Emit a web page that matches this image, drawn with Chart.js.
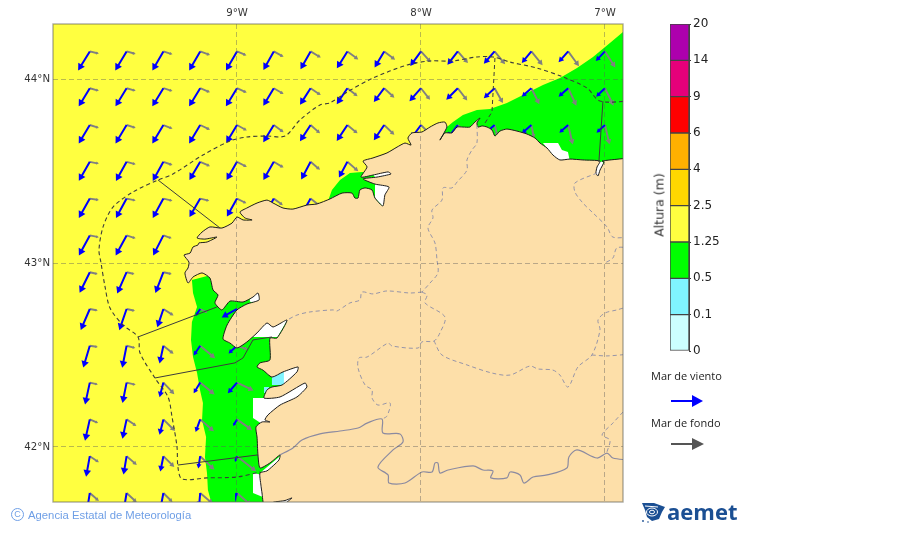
<!DOCTYPE html>
<html>
<head>
<meta charset="utf-8">
<title>Altura de mar combinada</title>
<script src="https://cdn.jsdelivr.net/npm/chart.js@4/dist/chart.umd.min.js"></script>
<style>
  html, body { margin: 0; padding: 0; background: #fff; }
  #page { position: relative; width: 900px; height: 533px; overflow: hidden; }
  #mapChart { position: absolute; left: 0; top: 0; }
  #barChart { position: absolute; left: 640px; top: 0; }
  .label { position: absolute; white-space: nowrap; }
  #altura { left: 659px; top: 205px; font: 12.5px "DejaVu Sans"; color: #333; transform: translate(-50%, -50%) rotate(-90deg); }
  .key { left: 651px; font: 11px "Open Sans"; color: #222; }
  #copy { left: 28px; top: 509px; font: 11.3px "Liberation Sans"; color: #6f9fe6; }
  #copyMark { left: 11px; top: 508px; width: 11px; height: 11px; border: 1.3px solid #6f9fe6; border-radius: 50%; font: 9px/11px "Liberation Sans"; color: #6f9fe6; text-align: center; }
  #aemet { left: 667px; top: 496px; font: bold 22px "Open Sans"; color: #1b4f93; }
  svg { position: absolute; left: 0; top: 0; }
</style>
</head>
<body>
<div id="page">
  <canvas id="mapChart" width="900" height="533"></canvas>
  <canvas id="barChart" width="130" height="400"></canvas>
  <div class="label" id="altura">Altura (m)</div>
  <div class="label key" style="top:368px">Mar de viento</div>
  <div class="label key" style="top:415px">Mar de fondo</div>
  <svg width="900" height="533">
    <line x1="671" y1="401" x2="694" y2="401" stroke="#0000ff" stroke-width="2"/>
    <polygon points="692,395 703,401 692,407" fill="#0000ff"/>
    <line x1="671" y1="444" x2="694" y2="444" stroke="#555" stroke-width="2"/>
    <polygon points="692,438 704,444 692,450" fill="#555"/>
    <polygon points="642,503 654,503 665,507 662,512 659,519 652,521 647,517 645,510" fill="#1b4f93"/>
    <g fill="none" stroke="#ffffff" stroke-width="1">
      <ellipse cx="652" cy="512" rx="5.5" ry="4"/>
      <ellipse cx="652" cy="512" rx="2.5" ry="1.8"/>
      <path d="M645 506 L658 507"/>
    </g>
    <circle cx="643" cy="521" r="0.9" fill="#1b4f93"/>
    <circle cx="648" cy="522" r="0.8" fill="#1b4f93"/>
  </svg>
  <div class="label" id="aemet">aemet</div>
  <div class="label" id="copyMark">C</div>
  <div class="label" id="copy">Agencia Estatal de Meteorología</div>
</div>
<script>
// Map limits and ticks (degrees)
const lonMin = -10, lonMax = -6.902, latMin = 41.701, latMax = 44.299;
const lonTicks = [-9, -8, -7];
const lonTickLabels = ['9°W', '8°W', '7°W'];
const latTicks = [44, 43, 42];
const latTickLabels = ['44°N', '43°N', '42°N'];

// Colour bar
const barClasses = ['0-0.1', '0.1-0.5', '0.5-1.25', '1.25-2.5', '2.5-4', '4-6', '6-9', '9-14', '14-20'];
const barColors = ['#ccffff', '#80f4ff', '#00ff00', '#ffff40', '#ffd700', '#ffb000', '#ff0000', '#e6007a', '#ad00ad'];
const barTickLabels = ['0', '0.1', '0.5', '1.25', '2.5', '4', '6', '9', '14', '20'];

// Coast of Galicia, east to west then south, closed round the bottom right corner
const landOutline = [
  [-6.864,43.571],[-6.973,43.560],[-7.016,43.554],[-7.005,43.549],[-7.027,43.505],[-7.038,43.473],[-7.049,43.489],
  [-7.043,43.522],[-7.027,43.554],[-7.120,43.560],[-7.190,43.565],[-7.245,43.560],[-7.283,43.587],[-7.315,43.625],
  [-7.353,43.652],[-7.380,43.679],[-7.424,43.701],[-7.478,43.717],[-7.533,43.728],[-7.571,43.717],[-7.598,43.690],
  [-7.614,43.723],[-7.641,43.739],[-7.668,43.745],[-7.690,43.739],[-7.696,43.761],[-7.679,43.788],[-7.707,43.766],
  [-7.734,43.739],[-7.772,43.739],[-7.804,43.739],[-7.832,43.707],[-7.870,43.707],[-7.897,43.668],[-7.859,43.739],
  [-7.870,43.766],[-7.908,43.761],[-7.951,43.739],[-7.995,43.712],[-8.049,43.707],[-8.071,43.679],[-8.054,43.641],
  [-8.087,43.652],[-8.130,43.630],[-8.185,43.598],[-8.261,43.571],[-8.315,43.554],[-8.293,43.522],[-8.326,43.467],
  [-8.261,43.478],[-8.179,43.495],[-8.163,43.484],[-8.239,43.467],[-8.315,43.457],[-8.250,43.429],[-8.174,43.413],
  [-8.196,43.370],[-8.207,43.310],[-8.250,43.353],[-8.266,43.397],[-8.304,43.408],[-8.332,43.397],[-8.342,43.353],
  [-8.359,43.353],[-8.375,43.380],[-8.429,43.380],[-8.495,43.348],[-8.565,43.321],[-8.620,43.315],[-8.696,43.293],
  [-8.750,43.299],[-8.804,43.326],[-8.837,43.342],[-8.891,43.326],[-8.946,43.299],[-8.984,43.277],[-8.957,43.245],
  [-8.918,43.234],[-8.967,43.234],[-9.000,43.250],[-9.027,43.217],[-9.082,43.190],[-9.147,43.196],[-9.190,43.168],
  [-9.217,43.136],[-9.174,43.130],[-9.109,43.141],[-9.163,43.114],[-9.207,43.109],[-9.212,43.098],[-9.239,43.087],
  [-9.255,43.054],[-9.288,43.043],[-9.261,43.005],[-9.266,42.973],[-9.283,42.946],[-9.266,42.891],[-9.239,42.924],
  [-9.190,42.946],[-9.147,42.918],[-9.130,42.853],[-9.103,42.826],[-9.120,42.783],[-9.082,42.745],[-9.038,42.793],
  [-8.967,42.788],[-8.913,42.815],[-8.886,42.837],[-8.880,42.799],[-8.946,42.777],[-9.000,42.745],[-9.054,42.663],
  [-9.076,42.587],[-9.038,42.565],[-9.000,42.538],[-8.946,42.571],[-8.891,42.620],[-8.837,42.674],[-8.804,42.652],
  [-8.728,42.690],[-8.783,42.592],[-8.821,42.592],[-8.821,42.473],[-8.875,42.457],[-8.891,42.435],[-8.859,42.418],
  [-8.810,42.380],[-8.750,42.408],[-8.668,42.435],[-8.674,42.408],[-8.755,42.337],[-8.810,42.326],[-8.837,42.310],
  [-8.853,42.266],[-8.766,42.272],[-8.630,42.348],[-8.620,42.326],[-8.674,42.272],[-8.766,42.228],[-8.832,42.174],
  [-8.848,42.147],[-8.821,42.136],[-8.864,42.136],[-8.897,42.109],[-8.891,42.054],[-8.886,41.957],[-8.875,41.886],
  [-8.821,41.913],[-8.766,41.957],[-8.772,41.929],[-8.837,41.870],[-8.875,41.859],[-8.870,41.793],[-8.864,41.750],
  [-8.853,41.685],[-8.804,41.685],[-8.804,41.699],[-8.739,41.709],[-8.701,41.723],[-8.734,41.695],[-8.734,41.685],
  [-6.864,41.685]
];

// Sea height areas
const greenWest = [
  [-9.245,42.908],[-9.239,42.837],[-9.217,42.761],[-9.245,42.679],[-9.250,42.582],[-9.239,42.489],[-9.217,42.402],
  [-9.201,42.310],[-9.185,42.239],[-9.190,42.147],[-9.168,42.054],[-9.174,41.946],[-9.163,41.859],[-9.158,41.766],
  [-9.136,41.685],[-8.810,41.685],[-8.658,42.147],[-8.603,42.690],[-9.038,42.962]
];
const greenNorth = [
  [-6.864,44.288],[-6.902,44.255],[-6.973,44.196],[-7.065,44.120],[-7.152,44.060],[-7.245,44.005],[-7.337,43.967],
  [-7.446,43.913],[-7.533,43.870],[-7.625,43.837],[-7.696,43.832],[-7.772,43.804],[-7.826,43.766],[-7.859,43.739],
  [-7.924,43.641],[-6.864,43.505]
];
const greenFerrol = [
  [-8.511,43.321],[-8.484,43.397],[-8.440,43.451],[-8.386,43.489],[-8.321,43.495],[-8.120,43.495],[-8.120,43.288],[-8.511,43.288]
];
const cyanPontevedra = [[-8.81,42.40],[-8.745,42.41],[-8.745,42.337],[-8.81,42.337]];
const cyanAldan = [[-8.853,42.326],[-8.826,42.326],[-8.826,42.293],[-8.853,42.293]];
const whiteMuros = [[-8.93,42.80],[-8.90,42.85],[-8.86,42.85],[-8.86,42.78],[-8.93,42.79]];
const whiteArousa = [[-8.918,42.598],[-8.891,42.63],[-8.85,42.68],[-8.72,42.70],[-8.78,42.598]];
const whitePontevedra = [[-8.755,42.41],[-8.64,42.45],[-8.65,42.39],[-8.755,42.33]];
const whiteVigo = [[-8.913,42.266],[-8.853,42.266],[-8.614,42.364],[-8.614,42.310],[-8.810,42.125],[-8.864,42.125],[-8.913,42.158]];
const whiteMinho = [[-8.875,41.859],[-8.739,41.973],[-8.739,41.913],[-8.853,41.848]];
const whiteGuarda = [[-8.913,41.859],[-8.860,41.848],[-8.860,41.728],[-8.913,41.750]];
const whiteCaminha = [[-8.81,41.69],[-8.70,41.73],[-8.70,41.68]];
const whiteRibadeo = [[-7.060,43.550],[-7.011,43.550],[-7.011,43.462],[-7.060,43.462]];
const whiteNorth = [[-7.337,43.652],[-7.255,43.652],[-7.234,43.614],[-7.201,43.603],[-7.190,43.549],[-7.261,43.560],[-7.299,43.603]];
const whiteFerrol = [[-8.261,43.484],[-8.152,43.505],[-8.152,43.473],[-8.245,43.457]];
const whiteBetanzos = [[-8.250,43.429],[-8.163,43.424],[-8.201,43.30],[-8.250,43.353]];

// Maritime zones
const zoneLimit = [
  [-6.864,43.880],[-7.027,43.880],[-7.098,43.951],[-7.228,44.011],[-7.370,44.060],[-7.516,44.092],[-7.609,44.120],
  [-7.696,44.120],[-7.826,44.098],[-7.951,44.098],[-8.076,44.076],[-8.261,44.005],[-8.402,43.929],[-8.495,43.870],
  [-8.549,43.859],[-8.658,43.777],[-8.739,43.690],[-8.837,43.690],[-8.946,43.685],[-9.038,43.663],[-9.185,43.587],
  [-9.348,43.484],[-9.429,43.451],[-9.565,43.386],[-9.674,43.304],[-9.728,43.196],[-9.750,43.071],[-9.739,43.000],
  [-9.717,42.870],[-9.690,42.755],[-9.620,42.663],[-9.538,42.598],[-9.527,42.511],[-9.446,42.375],[-9.375,42.272],
  [-9.353,42.163],[-9.326,42.000],[-9.321,41.891],[-9.299,41.826],[-9.163,41.832],[-9.000,41.837],[-8.875,41.864]
];
const zoneDividerA = [[-9.429,43.451],[-9.092,43.190]];
const zoneDividerB = [[-9.538,42.598],[-9.109,42.761]];
const zoneDividerC = [[-9.446,42.375],[-9.011,42.457],[-8.967,42.484],[-8.913,42.582],[-8.810,42.598]];
const zoneDividerD = [[-9.321,41.902],[-8.886,41.957]];
const zoneDividerE = [[-7.598,44.114],[-7.614,43.821],[-7.652,43.761]];
const zoneDividerF = [[-7.011,43.880],[-7.033,43.549]];

// Province limits and the Portuguese border
const provNorth = [
  [-7.696,43.750],[-7.696,43.652],[-7.723,43.614],[-7.750,43.560],[-7.750,43.505],[-7.804,43.440],[-7.832,43.408],
  [-7.880,43.408],[-7.886,43.342],[-7.940,43.288],[-7.935,43.245],[-7.962,43.190],[-7.924,43.109],[-7.913,43.016],
  [-7.908,42.946],[-7.951,42.891],[-7.995,42.842]
];
const provWest = [
  [-7.995,42.842],[-8.060,42.837],[-8.185,42.848],[-8.261,42.832],[-8.321,42.842],[-8.332,42.799],[-8.386,42.783],
  [-8.457,42.739],[-8.478,42.745],[-8.603,42.734],[-8.674,42.717],[-8.728,42.690]
];
const provSouth = [
  [-7.995,42.842],[-7.967,42.826],[-7.978,42.783],[-7.870,42.707],[-7.897,42.620],[-7.929,42.576],[-7.995,42.571],
  [-8.016,42.538],[-8.158,42.549],[-8.179,42.565],[-8.293,42.489],[-8.337,42.484],[-8.342,42.429],[-8.304,42.337],
  [-8.266,42.310],[-8.266,42.266],[-8.234,42.228],[-8.168,42.239],[-8.185,42.168],[-8.212,42.152]
];
const provEast = [
  [-7.929,42.576],[-7.886,42.500],[-7.750,42.446],[-7.614,42.402],[-7.516,42.391],[-7.408,42.440],[-7.364,42.424],
  [-7.283,42.418],[-7.245,42.391],[-7.201,42.326],[-7.147,42.435],[-7.071,42.500],[-7.027,42.636],[-7.038,42.690],
  [-7.000,42.728],[-6.935,42.745],[-6.864,42.766]
];
const provFork = [[-7.071,42.500],[-6.989,42.495],[-6.864,42.505]];
const provSouthEast = [[-6.902,42.190],[-6.957,42.130],[-7.016,42.065],[-6.973,42.038],[-6.989,41.973]];
const provAsturias = [
  [-7.043,43.489],[-7.163,43.435],[-7.163,43.386],[-7.120,43.326],[-7.065,43.272],[-6.989,43.196],[-6.957,43.141],[-6.864,43.141]
];
const provCorner = [[-6.864,43.082],[-6.935,43.082],[-6.957,43.027],[-7.000,43.000]];
const border = [
  [-8.766,41.957],[-8.696,41.995],[-8.647,42.038],[-8.549,42.071],[-8.440,42.087],[-8.342,42.103],[-8.293,42.130],
  [-8.212,42.152],[-8.207,42.076],[-8.114,42.071],[-8.098,42.027],[-8.152,41.984],[-8.234,41.891],[-8.179,41.848],
  [-8.174,41.804],[-8.087,41.804],[-7.995,41.864],[-7.940,41.864],[-7.924,41.913],[-7.908,41.913],[-7.897,41.859],
  [-7.853,41.875],[-7.717,41.897],[-7.663,41.875],[-7.609,41.870],[-7.620,41.832],[-7.533,41.832],[-7.516,41.864],
  [-7.462,41.848],[-7.440,41.804],[-7.391,41.837],[-7.315,41.848],[-7.207,41.886],[-7.196,41.946],[-7.152,41.984],
  [-7.043,41.940],[-6.989,41.967],[-6.957,41.940],[-6.864,41.929]
];

// Wave vectors: one row per latitude, columns run east from the first longitude
const gridLons = [-9.8, -9.6, -9.4, -9.2, -9.0, -8.8, -8.6, -8.4, -8.2, -8.0, -7.8, -7.6, -7.4, -7.2, -7.0];
const gridLats = [44.15, 43.95, 43.75, 43.55, 43.35, 43.15, 42.95, 42.75, 42.55, 42.35, 42.15, 41.95, 41.75];
const windU = [
  [-32,-31,-30,-30,-30,-28,-27,-28,-25,-28,-27,-28,-25,-25,-24],
  [-30,-30,-30,-30,-30,-28,-28,-28,-27,-30,-30,-28,-25,-25,-23],
  [-30,-30,-30,-30,-29,-28,-28,-28,-27,-28,-27,-25,-25,-23,-22],
  [-30,-29,-29,-29,-28,-28,-25,-22],
  [-30,-29,-29,-29,-27,-27,-27],
  [-30,-30,-28],
  [-28,-26,-22],
  [-25,-20,-16,-12,-40],
  [-18,-12,-10,-17,-22],
  [-13,-11,-10,-17,-24],
  [-13,-11,-10,-12,-10],
  [-10,-8,-8,-5,-5],
  [-8,-8,-8,-3,-3]
];
const windV = [
  [-52,-52,-52,-52,-52,-50,-48,-45,-42,-38,-35,-32,-30,-28,-25],
  [-49,-49,-49,-49,-49,-47,-44,-42,-36,-34,-30,-26,-22,-22,-22],
  [-50,-50,-50,-50,-48,-46,-43,-42,-40,-38,-35,-22,-22,-20,-20],
  [-52,-52,-52,-49,-49,-49,-47,-41],
  [-53,-53,-53,-50,-48,-48,-48],
  [-55,-55,-55],
  [-57,-59,-57],
  [-58,-58,-48,-18,-22],
  [-60,-60,-46,-25,-20],
  [-60,-55,-38,-28,-28],
  [-58,-51,-40,-33,-17],
  [-55,-48,-40,-32,-15],
  [-50,-48,-42,-35,-10]
];
const swellU = [
  [25,25,25,27,26,27,28,30,30,27,28,29,31,30,29],
  [25,25,25,27,27,27,28,28,28,25,26,23,22,23,24],
  [25,25,25,27,27,27,26,28,28,25,25,8,7,13,13],
  [25,25,25,27,27,27,26,30],
  [25,25,25,25,26,25,25],
  [25,25,23],
  [22,22,23],
  [22,23,28,20,20],
  [22,24,28,42,30],
  [22,25,30,40,46],
  [23,27,32,38,42],
  [25,28,30,40,56],
  [25,28,25,35,40]
];
const swellV = [
  [-6,-7,-8,-10,-11,-15,-17,-22,-23,-30,-32,-35,-38,-41,-45],
  [-7,-7,-8,-11,-12,-16,-19,-22,-26,-32,-34,-41,-44,-49,-49],
  [-8,-8,-10,-13,-15,-20,-23,-23,-27,-25,-25,-30,-35,-55,-55],
  [-5,-7,-9,-12,-14,-16,-22,-26],
  [-4,-5,-6,-6,-13,-18,-20],
  [-5,-8,-8],
  [-5,-5,-5],
  [-4,-5,-18,-10,-10],
  [-3,-6,-22,-35,-10],
  [-5,-6,-32,-33,-22],
  [-10,-18,-32,-33,-30],
  [-17,-24,-30,-38,-44],
  [-22,-26,-25,-30,-35]
];
const vectorUnit = 1 / 552; // degrees per vector unit

function toXY(points) {
  return points.map(p => ({ x: p[0], y: p[1] }));
}

function area(points, color, lineColor, lineWidth, tension) {
  return {
    data: toXY(points),
    showLine: true,
    fill: 'shape',
    backgroundColor: color,
    borderColor: lineColor || color,
    borderWidth: lineWidth === undefined ? 0 : lineWidth,
    tension: tension || 0,
    pointRadius: 0
  };
}

function line(points, color, width, dash, tension) {
  return {
    data: toXY(points),
    showLine: true,
    fill: false,
    borderColor: color,
    borderWidth: width,
    borderDash: dash || [],
    tension: tension || 0,
    pointRadius: 0
  };
}

// Shafts go in one dataset with gaps, heads in another as rotated triangles
function arrows(uRows, vRows, color, width, heads, headRatio) {
  const shaft = [];
  const head = [];
  const angle = [];
  const size = [];
  uRows.forEach((row, r) => {
    row.forEach((u, c) => {
      const v = vRows[r][c];
      const x = gridLons[c];
      const y = gridLats[r];
      shaft.push({ x: x, y: y });
      shaft.push({ x: x + u * 0.9 * vectorUnit, y: y + v * 0.9 * vectorUnit });
      shaft.push({ x: null, y: null });
      head.push({ x: x + u * 0.88 * vectorUnit, y: y + v * 0.88 * vectorUnit });
      angle.push(Math.atan2(u, v) * 180 / Math.PI);
      size.push(Math.min(heads, Math.hypot(u, v) * headRatio));
    });
  });
  return [
    { data: shaft, showLine: true, fill: false, borderColor: color, borderWidth: width, pointRadius: 0 },
    {
      data: head,
      showLine: false,
      pointStyle: 'triangle',
      pointRotation: angle,
      pointRadius: size,
      backgroundColor: color,
      borderColor: color,
      borderWidth: 0
    }
  ];
}

const zoneColor = '#3c3c3c';
const provColor = '#9795a8';
const borderColor = '#8b8aa0';
const provDash = [4, 3];
const sea = [[lonMin, latMin], [lonMin, latMax], [lonMax, latMax], [lonMax, latMin]];

// Listed back to front, reversed below because Chart.js paints the first dataset last
const layers = [
  area(sea, '#ffff40'),
  area(greenWest, '#00ff00'),
  area(greenNorth, '#00ff00'),
  area(greenFerrol, '#00ff00'),
  area(whiteMuros, '#ffffff'),
  area(whiteArousa, '#ffffff'),
  area(whitePontevedra, '#ffffff'),
  area(cyanPontevedra, '#80f4ff'),
  area(cyanAldan, '#80f4ff'),
  area(whiteVigo, '#ffffff'),
  area(whiteMinho, '#ffffff'),
  area(whiteGuarda, '#ffffff'),
  area(whiteCaminha, '#ffffff'),
  area(whiteRibadeo, '#ffffff'),
  area(whiteNorth, '#ffffff'),
  area(whiteFerrol, '#ffffff'),
  area(whiteBetanzos, '#ffffff'),
  ...arrows(swellU, swellV, '#808080', 1.9, 3.4, 0.07),
  ...arrows(windU, windV, '#0000ff', 2, 4.4, 0.09),
  area(landOutline, '#fddfa9', '#1c1c1c', 1, 0.2),
  line(provNorth, provColor, 1, provDash, 0.3),
  line(provWest, provColor, 1, provDash, 0.3),
  line(provSouth, provColor, 1, provDash, 0.3),
  line(provEast, provColor, 1, provDash, 0.3),
  line(provFork, provColor, 1, provDash, 0.3),
  line(provSouthEast, provColor, 1, provDash, 0.3),
  line(provAsturias, provColor, 1, provDash, 0.3),
  line(provCorner, provColor, 1, provDash, 0.3),
  line(border, borderColor, 1.2, [], 0.3),
  line(zoneLimit, zoneColor, 1.1, [4, 3], 0.3),
  line(zoneDividerA, zoneColor, 1),
  line(zoneDividerB, zoneColor, 1),
  line(zoneDividerC, zoneColor, 1),
  line(zoneDividerD, zoneColor, 1),
  line(zoneDividerE, zoneColor, 1, [4, 3]),
  line(zoneDividerF, zoneColor, 1)
];

// Frame round the map
const mapFrame = {
  id: 'mapFrame',
  afterDraw(chart) {
    const a = chart.chartArea;
    const ctx = chart.ctx;
    ctx.save();
    ctx.strokeStyle = 'rgba(100,100,90,0.55)';
    ctx.lineWidth = 1.4;
    ctx.strokeRect(a.left, a.top, a.right - a.left, a.bottom - a.top);
    ctx.restore();
  }
};

new Chart(document.getElementById('mapChart'), {
  type: 'scatter',
  data: { datasets: layers.reverse() },
  plugins: [mapFrame],
  options: {
    responsive: false,
    animation: false,
    layout: { padding: { top: 0, left: 0, right: 277, bottom: 31 } },
    plugins: { legend: { display: false }, tooltip: { enabled: false } },
    scales: {
      x: {
        type: 'linear',
        position: 'top',
        min: lonMin,
        max: lonMax,
        afterBuildTicks: axis => { axis.ticks = lonTicks.map(v => ({ value: v })); },
        afterFit: axis => { axis.height = 24; },
        grid: { z: 1, color: 'rgba(90,90,90,0.42)', drawTicks: false },
        border: { display: false, dash: [5, 3] },
        ticks: {
          autoSkip: false,
          maxRotation: 0,
          padding: 5,
          color: '#333',
          font: { family: 'DejaVu Sans', size: 10.2 },
          callback: (value, i) => lonTickLabels[i]
        }
      },
      y: {
        type: 'linear',
        min: latMin,
        max: latMax,
        afterBuildTicks: axis => { axis.ticks = latTicks.map(v => ({ value: v })); },
        afterFit: axis => { axis.width = 53; },
        grid: { z: 1, color: 'rgba(90,90,90,0.42)', drawTicks: false },
        border: { display: false, dash: [5, 3] },
        ticks: {
          autoSkip: false,
          padding: 3,
          color: '#333',
          font: { family: 'DejaVu Sans', size: 10.2 },
          callback: (value, i) => latTickLabels[i]
        }
      }
    }
  }
});

// Colour bar, one equal stacked block per class
new Chart(document.getElementById('barChart'), {
  type: 'bar',
  data: {
    labels: ['Altura'],
    datasets: barClasses.map((name, i) => ({
      label: name,
      data: [1],
      backgroundColor: barColors[i],
      borderColor: '#444',
      borderWidth: 1,
      borderSkipped: false,
      barPercentage: 1,
      categoryPercentage: 1
    }))
  },
  options: {
    responsive: false,
    animation: false,
    layout: { padding: { top: 24, left: 30, right: 0, bottom: 49 } },
    plugins: { legend: { display: false }, tooltip: { enabled: false } },
    scales: {
      x: { stacked: true, display: false },
      y: {
        stacked: true,
        position: 'right',
        min: 0,
        max: barClasses.length,
        afterFit: axis => { axis.width = 81; },
        grid: { drawOnChartArea: false, tickLength: 2, color: '#333' },
        border: { color: '#444' },
        ticks: {
          stepSize: 1,
          autoSkip: false,
          padding: 2,
          color: '#222',
          font: { family: 'DejaVu Sans', size: 12 },
          callback: value => barTickLabels[value]
        }
      }
    }
  }
});
</script>
</body>
</html>
